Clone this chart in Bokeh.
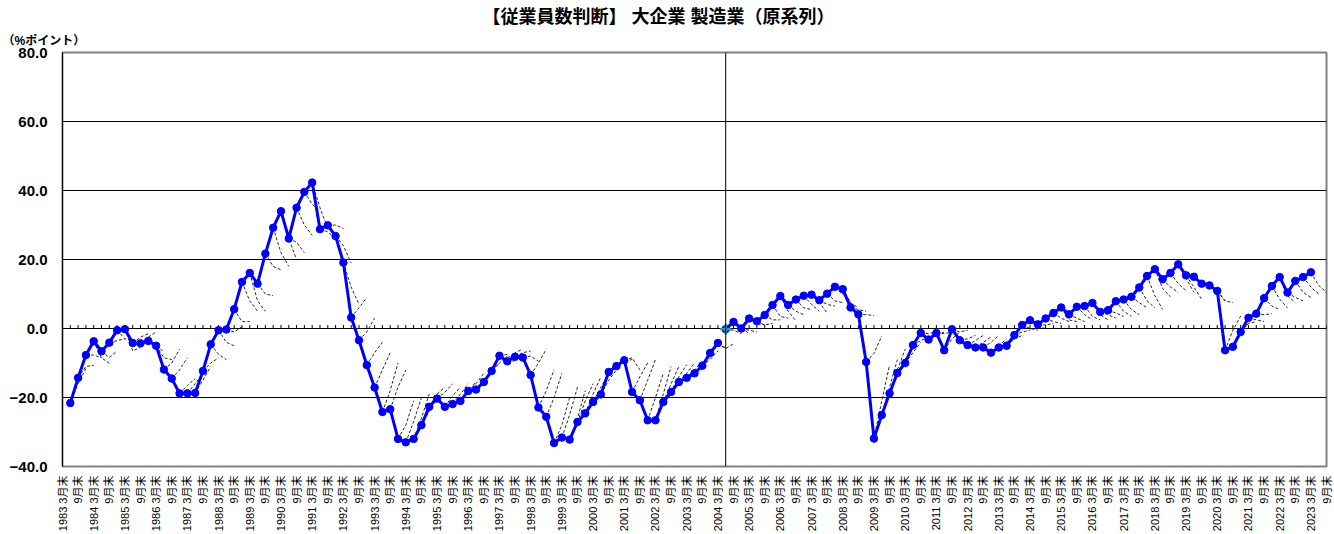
import numpy as np
from bokeh.plotting import figure
from bokeh.models import Range1d, FixedTicker, LinearAxis, Span, Title
from bokeh.embed import file_html
from bokeh.resources import INLINE

# ---------------- data ----------------
title_text = "【従業員数判断】 大企業 製造業（原系列）"
unit_text = "（%ポイント）"

years = list(range(1983, 2024))
months = ["3月末", "6月末", "9月末", "12月末"]
quarters = [f"{y} {m}" for y in years for m in months][:163]      # 1983 3月末 .. 2023 9月末
tick_labels = [f"{q.split()[0]} 3月末" if q.endswith(" 3月末") else ("9月末" if q.endswith(" 9月末") else "")
               for q in quarters]

y_ticks = [-40, -20, 0, 20, 40, 60, 80]
y_tick_labels = ["−40.0", "−20.0", "0.0", "20.0", "40.0", "60.0", "80.0"]

# old basis series (starts 1983 6月末)
old_start = "1983 6月末"
old_series = [-21.6, -14.3, -7.7, -3.7, -6.6, -4.1, -0.5, -0.2, -4.2, -4.3,
              -3.6, -5.0, -11.9, -14.5, -18.8, -18.8, -18.7, -12.3, -4.6, -0.5,
              -0.3, 5.6, 13.5, 16.1, 13.0, 21.7, 29.2, 34.0, 26.1, 35.0,
              39.6, 42.3, 28.8, 29.9, 26.8, 19.1, 3.2, -3.4, -10.6, -17.1,
              -24.2, -23.4, -32.0, -33.0, -32.0, -28.0, -22.7, -20.3, -22.7, -21.9,
              -21.0, -18.1, -17.7, -15.5, -12.3, -7.9, -9.5, -8.2, -8.4, -13.5,
              -22.9, -25.6, -33.2, -31.6, -32.2, -27.1, -24.6, -21.3, -19.1, -12.6,
              -10.9, -9.2, -18.4, -20.8, -26.6, -26.6, -21.3, -18.4, -15.5, -14.3,
              -13.0, -10.8, -7.1, -4.2]
# outlook one and two quarters ahead, made at each survey
old_outlook_1 = [-16.0, -11.0, -7.7, -8.5, -8.4, -3.5, -3.0, -6.5, -2.5, -2.5,
                 -4.5, -8.5, -10.0, -12.0, -16.5, -16.0, -15.0, -10.0, -7.5, -4.0,
                 -1.0, 2.0, 8.0, 8.0, 10.0, 18.0, 22.0, 26.0, 25.0, 30.0,
                 36.0, 35.0, 28.0, 30.0, 24.0, 12.0, 6.0, -1.0, -7.0, -12.0,
                 -18.0, -17.0, -28.0, -27.0, -26.0, -24.0, -19.0, -18.5, -19.5, -19.0,
                 -18.0, -16.0, -15.0, -12.5, -10.0, -7.5, -7.0, -7.0, -8.0, -10.0,
                 -18.0, -20.0, -28.0, -25.0, -26.0, -21.0, -19.0, -17.0, -15.0, -10.0,
                 -9.5, -8.5, -14.0, -15.0, -20.0, -19.0, -16.0, -14.0, -13.0, -12.0,
                 -11.0, -9.0, -5.0, -5.8]
old_outlook_2 = [-11.6, -10.7, -8.5, -10.1, -6.5, -3.0, -3.0, -5.5, -1.5, -1.0,
                 -7.0, -9.0, -6.0, -8.5, -14.5, -13.0, -11.0, -8.5, -9.0, -5.0,
                 0.5, 2.0, 5.0, 5.0, 9.5, 17.0, 18.0, 20.0, 22.0, 27.0,
                 34.0, 29.0, 26.0, 29.0, 19.0, 7.0, 9.0, 3.0, -4.0, -7.0,
                 -10.0, -12.0, -21.0, -20.0, -19.0, -20.0, -17.0, -16.0, -17.0, -16.0,
                 -15.5, -13.0, -13.0, -10.0, -8.0, -10.0, -6.0, -6.5, -9.5, -6.0,
                 -12.0, -13.0, -20.0, -17.0, -18.0, -16.0, -14.0, -13.0, -12.0, -9.5,
                 -9.0, -12.0, -10.0, -9.0, -13.0, -11.0, -11.0, -10.5, -10.0, -9.5,
                 -8.0, -6.5, -5.5, -4.4]

# new basis series (starts one quarter after the old one ends)
new_start = "2004 6月末"
new_series = [-0.2, 1.9, 0.0, 2.9, 2.1, 3.9, 6.8, 9.4, 6.8, 8.4,
              9.5, 9.8, 8.2, 10.1, 12.1, 11.4, 6.1, 4.1, -9.7, -31.9,
              -25.1, -18.8, -12.9, -10.0, -4.8, -1.3, -3.2, -1.3, -6.3, -0.2,
              -3.4, -4.8, -5.5, -5.5, -7.0, -5.5, -5.0, -1.9, 1.0, 2.4,
              1.2, 2.9, 4.5, 6.1, 4.1, 6.3, 6.5, 7.4, 4.8, 5.3,
              7.9, 8.4, 9.2, 11.9, 15.2, 17.2, 14.3, 16.1, 18.6, 15.4,
              15.0, 13.0, 12.5, 10.9, -6.3, -5.3, -1.0, 3.1, 4.3, 8.8,
              12.3, 14.9, 10.4, 13.8, 14.9, 16.3]
new_outlook_1 = [-0.5, 0.5, -0.5, 1.5, 1.0, 2.5, 3.5, 5.0, 5.0, 6.0,
                 7.0, 7.5, 7.0, 8.0, 10.0, 7.5, 5.5, 4.0, -7.2, -21.0,
                 -17.0, -12.0, -9.0, -7.0, -3.5, -1.5, -2.0, -1.5, -3.0, -1.0,
                 -3.0, -3.5, -4.0, -4.0, -5.0, -4.0, -3.0, -1.0, 0.0, 0.5,
                 1.0, 2.0, 3.0, 2.5, 3.0, 4.0, 3.5, 4.0, 4.0, 4.5,
                 5.0, 5.5, 7.5, 8.0, 9.5, 11.6, 12.0, 13.0, 14.5, 12.0,
                 13.0, 12.0, 11.0, 8.0, -0.5, -1.0, 1.5, 2.5, 4.0, 6.5,
                 8.5, 9.5, 9.0, 10.5, 12.0, 12.5]
new_outlook_2 = [-1.5, -1.5, -1.0, 1.0, 1.5, 2.5, 3.0, 2.2, 4.0, 5.5,
                 5.0, 4.5, 6.5, 7.5, 8.0, 6.0, 5.0, 3.8, -2.2, -10.6,
                 -9.0, -6.0, -5.0, -4.0, -2.5, -1.0, -1.0, -1.0, -1.0, -0.5,
                 -2.0, -2.0, -2.5, -2.0, -3.0, -3.0, -2.0, -0.5, -0.5, 0.0,
                 1.5, 1.5, 2.0, 2.0, 2.0, 2.5, 2.5, 2.5, 3.0, 3.5,
                 3.5, 4.0, 6.0, 6.0, 5.5, 9.2, 10.5, 11.0, 10.5, 8.5,
                 12.0, 11.0, 8.0, 7.5, 3.6, 1.5, 2.0, 2.0, 4.3, 5.5,
                 6.0, 7.5, 8.0, 9.0, 10.0, 10.5]

# ---------------- figure ----------------
pos = {q: i for i, q in enumerate(quarters)}
x_all = list(range(len(quarters)))
x_old = [pos[old_start] + i for i in range(len(old_series))]
x_new = [pos[new_start] + i for i in range(len(new_series))]
label_ticks = [i for i, t in enumerate(tick_labels) if t]

p = figure(width=1334, height=534, output_backend="svg", toolbar_location=None,
           x_range=Range1d(0, len(quarters) - 1), y_range=Range1d(-40, 80),
           x_axis_location=None,
           min_border_left=62, min_border_right=8, min_border_top=52, min_border_bottom=68)
p.background_fill_color = "white"
p.border_fill_color = "white"
p.outline_line_color = "#808080"
p.outline_line_width = 2

# titles
p.title.text = title_text
p.title.text_font = "'Liberation Sans', 'Noto Sans CJK JP'"
p.title.text_font_size = "18px"
p.title.text_font_style = "bold"
p.title.text_color = "black"
p.title.align = "left"
p.title.offset = 420
p.title.standoff = 0
p.add_layout(Title(text=unit_text, align="left", offset=-60, standoff=10,
                   text_font="'Liberation Sans', 'Noto Sans CJK JP'", text_font_size="12px",
                   text_font_style="bold", text_color="black"), "above")

p.xgrid.visible = False
p.ygrid.ticker = FixedTicker(ticks=[t for t in y_ticks if -40 < t < 80])
p.ygrid.grid_line_color = "black"
p.ygrid.grid_line_width = 1

ax = p.yaxis[0]
ax.ticker = FixedTicker(ticks=y_ticks)
ax.major_label_overrides = dict(zip(y_ticks, y_tick_labels))
ax.major_tick_line_color = None
ax.major_tick_out = 0
ax.major_tick_in = 0
ax.minor_tick_line_color = None
ax.axis_line_color = "black"
ax.axis_line_width = 1
ax.major_label_standoff = 15
ax.major_label_text_font = "Liberation Sans"
ax.major_label_text_font_style = "bold"
ax.major_label_text_font_size = "15px"
ax.major_label_text_color = "black"

# category axis (labels every half year, vertical)
xax = LinearAxis(ticker=FixedTicker(ticks=label_ticks),
                 major_label_overrides={i: tick_labels[i] for i in label_ticks},
                 major_label_orientation=np.pi / 2,
                 major_label_standoff=9,
                 major_label_text_font="'Liberation Sans', 'Noto Sans CJK JP'",
                 major_label_text_font_size="11px",
                 major_label_text_color="black",
                 axis_line_color=None, major_tick_line_color=None,
                 major_tick_out=0, major_tick_in=0, minor_tick_line_color=None)
p.add_layout(xax, "below")

# small tick marks along the zero line (category axis crossing at 0)
p.segment(x0=x_all, y0=[0] * len(x_all), x1=x_all, y1=[1.0] * len(x_all),
          line_color="black", line_width=1)

# separator between old and new basis
p.add_layout(Span(location=pos[new_start], dimension="height", line_color="black", line_width=1))

# outlook (dashed) lines: survey value -> 1 quarter ahead -> 2 quarters ahead
xs_f, ys_f = [], []
for xs, ys, f1, f2 in ((x_old, old_series, old_outlook_1, old_outlook_2),
                       (x_new, new_series, new_outlook_1, new_outlook_2)):
    for x, a, b, c in zip(xs, ys, f1, f2):
        xs_f.append([x, x + 1, x + 2])
        ys_f.append([a, b, c])
p.multi_line(xs_f, ys_f, line_color="black", line_width=1, line_dash="3 2", line_alpha=0.85)

# series
for xs, ys in ((x_old, old_series), (x_new, new_series)):
    p.line(xs, ys, line_color="#0000FF", line_width=3)
    p.scatter(xs, ys, size=7.5, fill_color="#0000FF", line_color="#0000FF")
p.scatter([x_new[0]], [new_series[0]], marker="cross", size=11,
          line_color="#2E9A9A", line_width=2.5)

open("out.html", "w").write(file_html(p, INLINE))
